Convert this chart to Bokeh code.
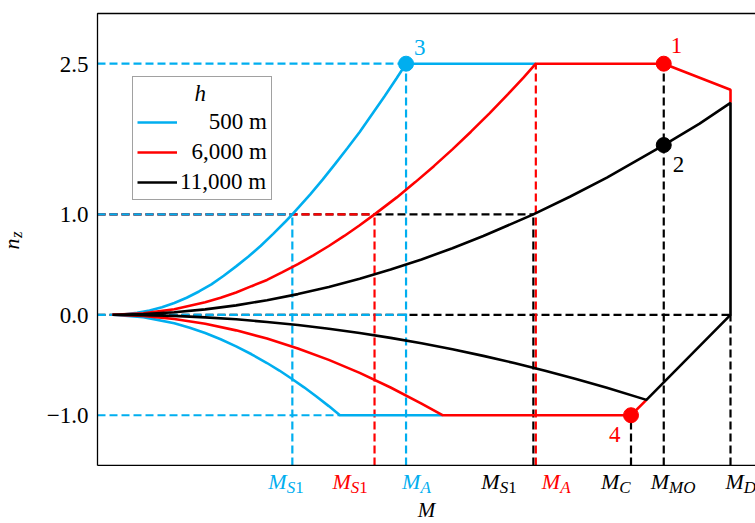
import numpy as np
from bokeh.plotting import figure
from bokeh.models import Range1d, Legend, LegendItem, ColumnDataSource
from bokeh.core.properties import value
from bokeh.embed import file_html
from bokeh.resources import INLINE

BLUE = "#00AEEF"
RED = "#FF0000"
BLACK = "#000000"
SERIF = "Liberation Serif"

# Characteristic Mach numbers (normalised so that M_D = 1)
M_S1_500, M_S1_6000, M_S1_11000 = 0.291, 0.424, 0.681
M_A_500, M_A_6000 = 0.475, 0.685
M_C, M_MO, M_D = 0.839, 0.892, 1.0
# Mach numbers where the negative stall boundary reaches its limit
M_NEG_500, M_NEG_6000, M_NEG_11000 = 0.368, 0.534, 0.864

N_MAX, N_MIN = 2.5, -1.0
N_NEG_11000 = -0.847          # end of negative stall boundary at 11,000 m
N_MD_6000, N_MD_11000 = 2.24, 2.11
N_POINT2 = 1.69

# Positive stall boundaries n_z(M)
pos500_M = [0, 0.02, 0.04, 0.06, 0.08, 0.10, 0.12, 0.14, 0.16, 0.18, 0.20, 0.22, 0.24, 0.26, 0.28,
            0.291, 0.30, 0.32, 0.34, 0.36, 0.38, 0.40, 0.42, 0.44, 0.46, 0.475]
pos500_n = [0, 0.005, 0.019, 0.043, 0.076, 0.118, 0.170, 0.232, 0.303, 0.389, 0.482, 0.580, 0.688,
            0.806, 0.929, 1.0, 1.062, 1.199, 1.346, 1.50, 1.658, 1.82, 1.996, 2.174, 2.357, 2.5]

pos6000_M = [0, 0.05, 0.10, 0.15, 0.175, 0.20, 0.225, 0.25, 0.275, 0.30, 0.325, 0.35, 0.375, 0.40,
             0.424, 0.46, 0.49, 0.52, 0.55, 0.58, 0.61, 0.64, 0.665, 0.685]
pos6000_n = [0, 0.014, 0.056, 0.125, 0.170, 0.222, 0.285, 0.347, 0.425, 0.505, 0.592, 0.685, 0.785,
             0.891, 1.0, 1.169, 1.321, 1.48, 1.647, 1.823, 2.005, 2.197, 2.361, 2.5]

pos11000_M = [0, 0.05, 0.10, 0.15, 0.20, 0.25, 0.30, 0.35, 0.40, 0.45, 0.50, 0.55, 0.60,
              0.681, 0.74, 0.80, 0.892, 0.95, 1.0]
pos11000_n = [0, 0.0065, 0.025, 0.054, 0.094, 0.145, 0.206, 0.277, 0.358, 0.450, 0.551, 0.663, 0.784,
              1.0, 1.175, 1.366, 1.69, 1.903, 2.11]

# Negative stall boundaries n_z(M)
neg500_M = [0, 0.05, 0.10, 0.125, 0.15, 0.175, 0.20, 0.225, 0.25, 0.27, 0.29, 0.31, 0.33, 0.35, 0.368]
neg500_n = [0, -0.023, -0.084, -0.129, -0.182, -0.244, -0.314, -0.393, -0.480, -0.555, -0.637,
            -0.722, -0.814, -0.909, -1.0]

neg6000_M = [0, 0.05, 0.10, 0.15, 0.20, 0.25, 0.30, 0.35, 0.40, 0.45, 0.50, 0.534]
neg6000_n = [0, -0.011, -0.042, -0.090, -0.155, -0.237, -0.335, -0.449, -0.578, -0.724, -0.884, -1.0]

neg11000_M = [0, 0.05, 0.10, 0.15, 0.20, 0.25, 0.30, 0.35, 0.40, 0.45, 0.50, 0.55, 0.60,
              0.65, 0.70, 0.75, 0.80, 0.864]
neg11000_n = [0, -0.003, -0.011, -0.026, -0.045, -0.071, -0.102, -0.139, -0.182, -0.230, -0.284,
              -0.344, -0.409, -0.480, -0.556, -0.639, -0.727, -0.847]

altitudes = ["500 m", "6,000 m", "11,000 m"]
y_ticks = [-1.0, 0.0, 1.0, 2.5]
y_tick_labels = ["\u22121.0", "0.0", "1.0", "2.5"]

# Axes box (data coordinates of the frame edges)
X_LEFT, X_RIGHT = -0.02427, 1.04045
Y_BOT, Y_TOP = -1.5, 3.0
# Full canvas extent, leaving room for tick labels and titles around the box
X_MIN, Y_MIN, Y_MAX = -0.18123, -2.0779, 3.1292

p = figure(width=755, height=523, x_range=Range1d(X_MIN, X_RIGHT), y_range=Range1d(Y_MIN, Y_MAX),
           output_backend="svg", toolbar_location=None, x_axis_type=None, y_axis_type=None,
           min_border=0)
p.grid.visible = False
p.outline_line_color = None
p.background_fill_color = "white"
p.border_fill_color = "white"

DASH = "8 4"
DW = 2.2


def hdash(n, m_end, color):
    p.line([X_LEFT, m_end], [n, n], line_color=color, line_width=DW, line_dash=DASH)


def vdash(m, n_top, color):
    p.line([m, m], [Y_BOT, n_top], line_color=color, line_width=DW, line_dash=DASH)


# horizontal reference lines
hdash(N_MAX, M_A_500, BLUE)
hdash(1.0, M_S1_11000, BLACK)
hdash(1.0, M_S1_6000, RED)
hdash(1.0, M_S1_500, BLUE)
hdash(0.0, M_D, BLACK)
hdash(0.0, M_A_500, BLUE)
hdash(N_MIN, M_NEG_500, BLUE)

# vertical reference lines
vdash(M_S1_500, 1.0, BLUE)
vdash(M_S1_6000, 1.0, RED)
vdash(M_A_500, N_MAX, BLUE)
vdash(M_S1_11000, 1.0, BLACK)
vdash(M_A_6000, N_MAX, RED)
vdash(M_C, N_MIN, BLACK)
vdash(M_MO, N_MAX, BLACK)
vdash(M_D, 0.0, BLACK)

LW = 2.6
# 500 m envelope
r_blue = p.line(pos500_M + [M_A_6000], pos500_n + [N_MAX], line_color=BLUE, line_width=LW)
p.line(neg500_M + [M_NEG_6000], neg500_n + [N_MIN], line_color=BLUE, line_width=LW)

# 6,000 m envelope
r_red = p.line(pos6000_M + [M_MO, M_D, M_D], pos6000_n + [N_MAX, N_MD_6000, N_MD_11000],
               line_color=RED, line_width=LW)
p.line(neg6000_M + [M_C, M_NEG_11000], neg6000_n + [N_MIN, N_NEG_11000], line_color=RED, line_width=LW)

# 11,000 m envelope
r_black = p.line(pos11000_M + [M_D, M_NEG_11000] + neg11000_M[::-1],
                 pos11000_n + [0.0, N_NEG_11000] + neg11000_n[::-1],
                 line_color=BLACK, line_width=LW)

# axes box: left, top and bottom edges
p.line([X_LEFT, X_LEFT, X_RIGHT], [Y_BOT, Y_TOP, Y_TOP], line_color=BLACK, line_width=1.3)
p.line([X_LEFT, X_RIGHT], [Y_BOT, Y_BOT], line_color=BLACK, line_width=1.3)

# y tick labels
p.text([X_LEFT] * len(y_ticks), y_ticks, text=y_tick_labels, x_offset=-9, y_offset=0.5,
       text_font=value(SERIF), text_font_size="23px", text_color=BLACK,
       text_align="right", text_baseline="alphabetic")

# numbered flight conditions
pt_M = [M_MO, M_MO, M_A_500, M_C]
pt_n = [N_MAX, N_POINT2, N_MAX, N_MIN]
pt_text = ["1", "2", "3", "4"]
pt_color = [RED, BLACK, BLUE, RED]
pt_dx = [7, 9, 8, -22]
pt_dy = [-18, 19, -16, 19]
p.scatter(pt_M, pt_n, size=15, fill_color=pt_color, line_color=pt_color)
p.text(pt_M, pt_n, text=pt_text, text_color=pt_color, x_offset=pt_dx, y_offset=pt_dy,
       text_font=value(SERIF), text_font_size="23px", text_align="left", text_baseline="alphabetic")

# Mach number marks below the axes box: italic M with a subscript
ADV = {"M": 0.833, "S": 0.5, "1": 0.5, "A": 0.611, "C": 0.667, "O": 0.722, "D": 0.722}
MAIN_PX, SUB_PX = 22, 17
mark_M = [M_S1_500, M_S1_6000, M_A_500, M_S1_11000, M_A_6000, M_C, M_MO, M_D]
mark_sub = ["S1", "S1", "A", "S1", "A", "C", "MO", "D"]
mark_color = [BLUE, RED, BLUE, BLACK, RED, BLACK, BLACK, BLACK]
mark_dx = [-24, -42, -4, -52, 6, -30, -13, -5]

main = dict(x=[], dx=[], text=[], color=[])
subs = dict(x=[], dx=[], text=[], color=[], style=[])
for m, sub, col, dx in zip(mark_M, mark_sub, mark_color, mark_dx):
    main["x"].append(m)
    main["dx"].append(dx)
    main["text"].append("M")
    main["color"].append(col)
    off = dx + ADV["M"] * MAIN_PX
    for ch in sub:
        subs["x"].append(m)
        subs["dx"].append(off)
        subs["text"].append(ch)
        subs["color"].append(col)
        subs["style"].append("normal" if ch.isdigit() else "italic")
        off += ADV[ch] * SUB_PX

src_main = ColumnDataSource(main)
src_sub = ColumnDataSource(subs)
p.text(x="x", y=Y_BOT, text="text", x_offset="dx", y_offset=15.6, source=src_main,
       text_color="color", text_font=value(SERIF), text_font_style="italic",
       text_font_size=f"{MAIN_PX}px", text_align="left", text_baseline="alphabetic")
p.text(x="x", y=Y_BOT, text="text", x_offset="dx", y_offset=21.7, source=src_sub,
       text_color="color", text_font=value(SERIF), text_font_style="style",
       text_font_size=f"{SUB_PX}px", text_align="left", text_baseline="alphabetic")

# axis titles
p.text([(X_LEFT + X_RIGHT) / 2], [Y_BOT], text=["M"], y_offset=45.0,
       text_font=value(SERIF), text_font_style="italic", text_font_size="21px",
       text_color=BLACK, text_align="center", text_baseline="alphabetic")
p.text([X_MIN], [0.0], text=["n"], x_offset=11, y_offset=-65.3, angle=np.pi / 2,
       text_font=value(SERIF), text_font_style="italic", text_font_size="22px",
       text_color=BLACK, text_align="left", text_baseline="alphabetic")
p.text([X_MIN], [0.0], text=["z"], x_offset=16, y_offset=-76.8, angle=np.pi / 2,
       text_font=value(SERIF), text_font_style="italic", text_font_size="17px",
       text_color=BLACK, text_align="left", text_baseline="alphabetic")

FS = "\u2007"   # figure space, same width as a digit
PS = "\u2008"   # punctuation space
legend = Legend(
    items=[LegendItem(label=FS + FS + PS + altitudes[0], renderers=[r_blue]),
           LegendItem(label=FS + altitudes[1], renderers=[r_red]),
           LegendItem(label=altitudes[2], renderers=[r_black])],
    title=FS * 5 + "h",
    location=(132, 323),
    orientation="vertical",
    padding=4, spacing=4, margin=0,
    glyph_width=40, label_standoff=3, title_standoff=2,
    border_line_color="#444444", border_line_width=1.3,
    background_fill_color="white", background_fill_alpha=1.0,
    label_text_font=SERIF, label_text_font_size="23px", label_text_color=BLACK,
    title_text_font=SERIF, title_text_font_style="italic", title_text_font_size="23px",
    title_text_color=BLACK,
)
p.add_layout(legend)

open("out.html", "w").write(file_html(p, INLINE))
